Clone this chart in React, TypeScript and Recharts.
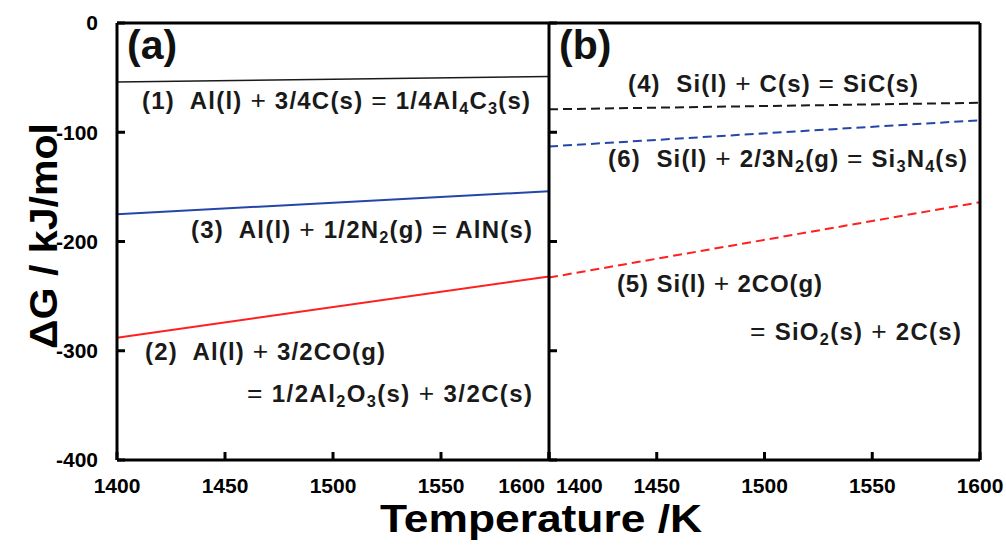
import React from "react";
import { LineChart, Line, XAxis, YAxis } from "recharts";

const temps = [1400, 1600];
const tTicks = [1400, 1450, 1500, 1550, 1600];
const gTicks = [0, -100, -200, -300, -400];

// (a) Al reactions, solid lines
const alC = [-54, -49]; // (1)
const alCO = [-288, -232]; // (2)
const alN = [-175, -154]; // (3)

// (b) Si reactions, dashed lines
const siC = [-79, -73]; // (4)
const siCO = [-233, -164]; // (5)
const siN = [-113, -89]; // (6)

const dataA = temps.map((T, i) => ({ T, r1: alC[i], r2: alCO[i], r3: alN[i] }));
const dataB = temps.map((T, i) => ({ T, r4: siC[i], r5: siCO[i], r6: siN[i] }));

const FONT = "'Liberation Sans', Arial, sans-serif";
const W = 1006;
const H = 551;
const BLACK = "#1a1a1a";
const BLUE = "#2446a8";
const RED = "#ff1f1f";

const frame = { stroke: "#000", strokeWidth: 3 };

function YTick(props: any) {
  const { x, y, payload, showLabel } = props;
  return (
    <g>
      <line x1={x} x2={x + 8} y1={y} y2={y} stroke="#000" strokeWidth={3} />
      {showLabel && (
        <text
          x={x - 19}
          y={y}
          dy="0.35em"
          textAnchor="end"
          fontFamily={FONT}
          fontWeight={700}
          fontSize={21}
          fill="#000"
        >
          {payload.value}
        </text>
      )}
    </g>
  );
}

function XTick(props: any) {
  const { x, y, payload, panel } = props;
  const v = payload.value;
  let anchor: "start" | "middle" | "end" = "middle";
  let tx = x;
  if (panel === "a" && v === 1600) {
    anchor = "end";
    tx = x - 4;
  }
  if (panel === "b" && v === 1400) {
    anchor = "start";
    tx = x + 7;
  }
  return (
    <g>
      <line x1={x} x2={x} y1={y} y2={y - 8} stroke="#000" strokeWidth={3} />
      <text
        x={tx}
        y={y + 33}
        textAnchor={anchor}
        fontFamily={FONT}
        fontWeight={700}
        fontSize={21}
        fill="#000"
      >
        {v}
      </text>
    </g>
  );
}

// "_3" -> subscript 3, "+"/"=" drawn thin
function Formula({ x, y, w, text, size = 24 }: { x: number; y: number; w: number; text: string; size?: number }) {
  const parts = text.split(/(_\d|[+=])/).filter((p) => p !== "");
  return (
    <text
      x={x}
      y={y}
      textLength={w}
      lengthAdjust="spacing"
      fontFamily={FONT}
      fontWeight={700}
      fontSize={size}
      fill="#1a1a1a"
      style={{ whiteSpace: "pre" }}
    >
      {parts.map((p, i) => {
        if (p.startsWith("_"))
          return (
            <tspan key={i} fontSize={size * 0.68} baselineShift="-30%">
              {p.slice(1)}
            </tspan>
          );
        if (p === "+" || p === "=")
          return (
            <tspan key={i} fontWeight={400} fontSize={size * 1.1}>
              {p}
            </tspan>
          );
        return <tspan key={i}>{p}</tspan>;
      })}
    </text>
  );
}

function Panel({ id, data, margin, children }: any) {
  return (
    <LineChart
      width={W}
      height={H}
      data={data}
      margin={margin}
      style={{ position: "absolute", left: 0, top: 0 }}
    >
      <XAxis
        xAxisId="b"
        dataKey="T"
        type="number"
        domain={[1400, 1600]}
        ticks={tTicks}
        interval={0}
        height={91}
        tickSize={0}
        tickMargin={0}
        tickLine={false}
        axisLine={frame}
        tick={<XTick panel={id} />}
      />
      <XAxis
        xAxisId="t"
        orientation="top"
        dataKey="T"
        type="number"
        domain={[1400, 1600]}
        height={1}
        tick={false}
        tickLine={false}
        axisLine={frame}
      />
      <YAxis
        yAxisId="l"
        type="number"
        domain={[-400, 0]}
        ticks={gTicks}
        interval={0}
        width={id === "a" ? 117 : 1}
        tickSize={0}
        tickMargin={0}
        tickLine={false}
        axisLine={frame}
        tick={<YTick showLabel={id === "a"} />}
      />
      {id === "b" && (
        <YAxis
          yAxisId="r"
          orientation="right"
          type="number"
          domain={[-400, 0]}
          width={1}
          tick={false}
          tickLine={false}
          axisLine={frame}
        />
      )}
      {children}
    </LineChart>
  );
}

export default function App() {
  return (
    <div
      style={{
        position: "absolute",
        left: 0,
        top: 0,
        width: W,
        height: H,
        background: "#fff",
        overflow: "hidden",
      }}
    >
      <Panel id="a" data={dataA} margin={{ top: 22, right: 457, bottom: 0, left: 0 }}>
        <Line xAxisId="b" yAxisId="l" dataKey="r1" stroke={BLACK} strokeWidth={1.6} dot={false} isAnimationActive={false} />
        <Line xAxisId="b" yAxisId="l" dataKey="r3" stroke={BLUE} strokeWidth={2} dot={false} isAnimationActive={false} />
        <Line xAxisId="b" yAxisId="l" dataKey="r2" stroke={RED} strokeWidth={2} dot={false} isAnimationActive={false} />
      </Panel>
      <Panel id="b" data={dataB} margin={{ top: 22, right: 25, bottom: 0, left: 548 }}>
        <Line xAxisId="b" yAxisId="l" dataKey="r4" stroke={BLACK} strokeWidth={2} strokeDasharray="9 5" dot={false} isAnimationActive={false} />
        <Line xAxisId="b" yAxisId="l" dataKey="r6" stroke={BLUE} strokeWidth={2} strokeDasharray="9 5" dot={false} isAnimationActive={false} />
        <Line xAxisId="b" yAxisId="l" dataKey="r5" stroke={RED} strokeWidth={2} strokeDasharray="9 5" dot={false} isAnimationActive={false} />
      </Panel>
      <svg
        width={W}
        height={H}
        style={{ position: "absolute", left: 0, top: 0, pointerEvents: "none" }}
      >
        <text x={127} y={59} fontFamily={FONT} fontWeight={700} fontSize={41} fill="#111">
          (a)
        </text>
        <text x={559} y={59} fontFamily={FONT} fontWeight={700} fontSize={41} fill="#111">
          (b)
        </text>
        <Formula x={142} y={109} w={388} text="(1)  Al(l) + 3/4C(s) = 1/4Al_4C_3(s)" />
        <Formula x={191} y={238} w={341} text="(3)  Al(l) + 1/2N_2(g) = AlN(s)" />
        <Formula x={145} y={360} w={240} text="(2)  Al(l) + 3/2CO(g)" />
        <Formula x={247} y={402} w={285} text="= 1/2Al_2O_3(s) + 3/2C(s)" />
        <Formula x={628} y={92} w={290} text="(4)  Si(l) + C(s) = SiC(s)" />
        <Formula x={608} y={167} w={359} text="(6)  Si(l) + 2/3N_2(g) = Si_3N_4(s)" />
        <Formula x={617} y={292} w={205} text="(5) Si(l) + 2CO(g)" />
        <Formula x={750} y={340} w={211} text="= SiO_2(s) + 2C(s)" />
        <text
          x={541}
          y={532}
          textAnchor="middle"
          textLength={322}
          lengthAdjust="spacingAndGlyphs"
          fontFamily={FONT}
          fontWeight={700}
          fontSize={38}
          fill="#000"
        >
          Temperature /K
        </text>
        <text
          x={57}
          y={236}
          textAnchor="middle"
          transform="rotate(-90 57 236)"
          textLength={226}
          lengthAdjust="spacingAndGlyphs"
          fontFamily={FONT}
          fontWeight={700}
          fontSize={38}
          fill="#000"
        >
          ΔG / kJ/mol
        </text>
      </svg>
    </div>
  );
}
